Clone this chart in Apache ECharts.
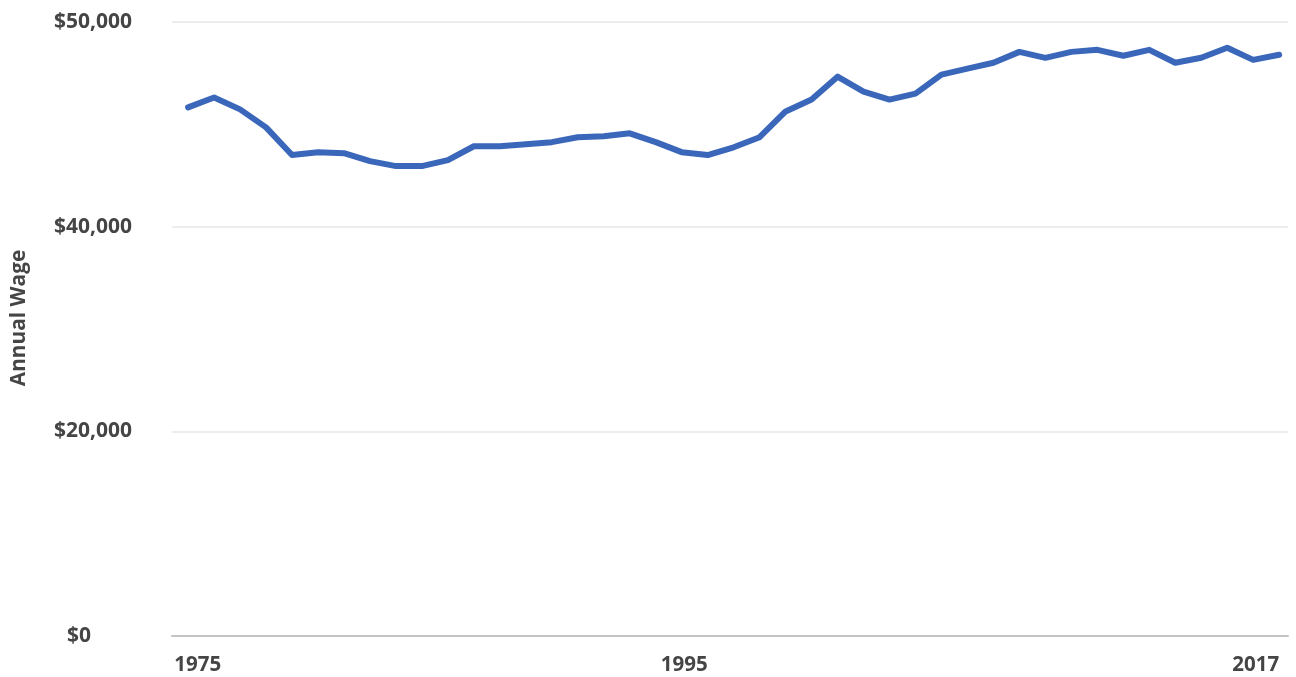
<!DOCTYPE html>
<html>
<head>
<meta charset="utf-8">
<script src="https://cdn.jsdelivr.net/npm/echarts@6/dist/echarts.min.js"></script>
<style>
  html, body { margin: 0; padding: 0; background: #fff; }
  #wage-chart { width: 1296px; height: 677px; }
</style>
</head>
<body>
<div id="wage-chart"></div>
<script>
  // data
  var years = [1975, 1976, 1977, 1978, 1979, 1980, 1981, 1982, 1983, 1984,
    1985, 1986, 1987, 1988, 1989, 1990, 1991, 1992, 1993, 1994,
    1995, 1996, 1997, 1998, 1999, 2000, 2001, 2002, 2003, 2004,
    2005, 2006, 2007, 2008, 2009, 2010, 2011, 2012, 2013, 2014,
    2015, 2016, 2017];
  var wages = [45830, 46310, 45730, 44850, 43500, 43640, 43590, 43200, 42960, 42960,
    43250, 43930, 43930, 44030, 44130, 44370, 44420, 44560, 44130, 43640,
    43500, 43880, 44370, 45630, 46210, 47330, 46600, 46210, 46500, 47430,
    47720, 48010, 48540, 48250, 48540, 48640, 48350, 48640, 48010, 48250,
    48740, 48150, 48400];
  var xLabelYears = [1975, 1995, 2017];
  var yTicks = [0, 20000, 40000, 50000];
  var yTickLabels = ['$0', '$20,000', '$40,000', '$50,000'];

  // the value axis has evenly spaced ticks that are not evenly spaced in dollars
  function toAxis(v) {
    for (var i = 0; i < yTicks.length - 1; i++) {
      if (v <= yTicks[i + 1]) {
        return i + (v - yTicks[i]) / (yTicks[i + 1] - yTicks[i]);
      }
    }
    return yTicks.length - 1;
  }

  var seriesData = years.map(function (y, i) {
    return [y, toAxis(wages[i])];
  });

  var font = 'Open Sans';
  var textColor = '#454545';

  var chartDom = document.getElementById('wage-chart');
  var myChart = echarts.init(chartDom);
  var option = {
    animation: false,
    grid: {
      left: 172,
      right: 8,
      top: 22,
      bottom: 41
    },
    graphic: [
      {
        type: 'text',
        x: 19,
        y: 318,
        rotation: Math.PI / 2,
        style: {
          text: 'Annual Wage',
          align: 'center',
          verticalAlign: 'middle',
          fill: textColor,
          font: 'bold 20.8px "Open Sans"'
        }
      }
    ],
    xAxis: {
      type: 'value',
      min: 1974.38,
      max: 2017.34,
      splitLine: { show: false },
      axisTick: { show: false },
      axisLine: {
        show: true,
        lineStyle: { color: '#c4c4c4', width: 2 }
      },
      axisLabel: {
        customValues: xLabelYears,
        align: 'right',
        alignMinLabel: 'center',
        margin: 19,
        color: textColor,
        fontFamily: font,
        fontWeight: 'bold',
        fontSize: 20.5,
        formatter: function (val) {
          if (val === xLabelYears[0]) {
            return '{first|' + val + '}';
          }
          return String(val);
        },
        rich: {
          first: {
            width: 66,
            align: 'right',
            color: textColor,
            fontFamily: font,
            fontWeight: 'bold',
            fontSize: 20.5
          }
        }
      }
    },
    yAxis: {
      type: 'value',
      min: 0,
      max: 3,
      interval: 1,
      axisLine: { show: false },
      axisTick: { show: false },
      splitLine: {
        lineStyle: { color: '#ededed', width: 2 }
      },
      axisLabel: {
        align: 'left',
        margin: 118,
        color: textColor,
        fontFamily: font,
        fontWeight: 'bold',
        fontSize: 21,
        formatter: function (val) {
          var label = yTickLabels[val];
          if (val === 0) {
            return '{zero|' + label + '}';
          }
          return label;
        },
        rich: {
          zero: {
            padding: [0, 0, 0, 13],
            color: textColor,
            fontFamily: font,
            fontWeight: 'bold',
            fontSize: 21
          }
        }
      }
    },
    series: [
      {
        name: 'Annual Wage',
        type: 'line',
        data: seriesData,
        showSymbol: false,
        lineStyle: {
          color: '#3b67bb',
          width: 6,
          cap: 'round',
          join: 'round'
        },
        z: 3
      }
    ]
  };

  option && myChart.setOption(option);
</script>
</body>
</html>
